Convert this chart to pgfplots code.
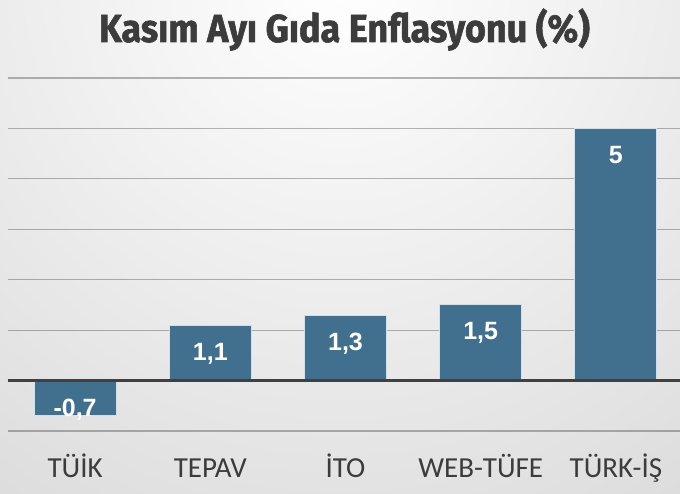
\documentclass[border=0pt]{standalone}
\usepackage{fontspec}
\usepackage{graphicx}
\usepackage{pgfplots}
\pgfplotsset{compat=1.18}
\setmainfont{Carlito}
\newfontfamily\titlefont{Fira Sans}[BoldFeatures={FakeBold=1.6}]
\newfontfamily\labfont{Liberation Sans}
\definecolor{barblue}{RGB}{65,111,142}
\definecolor{baredge}{RGB}{205,225,238}
\definecolor{txtgray}{RGB}{60,60,60}
\begin{document}
\begin{tikzpicture}
\path[use as bounding box] (0,0) rectangle (680bp,494bp);
\begin{scope}
\clip (0,0) rectangle (680bp,494bp);
\shade[inner color=white, outer color=black!27] (340bp,520bp) circle (1250bp);
\end{scope}
\node[anchor=base, text=txtgray, inner sep=0pt] at (344.5bp,452bp)
  {\resizebox{491bp}{\height}{\titlefont\bfseries\fontsize{39bp}{44bp}\selectfont Kasım Ayı Gıda Enflasyonu (\%)}};
\begin{axis}[
  at={(7.5bp,63bp)}, anchor=south west,
  scale only axis, width=672.5bp, height=353bp,
  xmin=-0.5, xmax=4.474, ymin=-1, ymax=6,
  ytick={-1,0,...,6}, yticklabels={},
  xtick={0,1,2,3,4},
  xticklabels={TÜİK,TEPAV,İTO,WEB-TÜFE,TÜRK-İŞ},
  xticklabel style={anchor=base, yshift=-46bp, text=txtgray, font=\fontsize{29bp}{32bp}\selectfont},
  axis line style={draw=none}, major tick length=0pt,
  ymajorgrids, grid style={draw=black, draw opacity=0.28, line width=1.2bp},
  ybar, bar width=82bp, bar shift=0pt,
  point meta=explicit symbolic,
  nodes near coords,
  nodes near coords style={text=white, font=\labfont\bfseries\fontsize{25bp}{28bp}\selectfont},
  clip=false,
]
\addplot[fill=barblue, draw=baredge, line width=0.9bp,
  nodes near coords style={anchor=base, yshift=-35bp}]
  table[meta=lab] {
x y lab
1 1.1 {1,1}
2 1.3 {1,3}
3 1.5 {1,5}
4 5 {5}
};
\addplot[fill=barblue, draw=baredge, line width=0.9bp,
  nodes near coords style={anchor=base, yshift=-1bp}]
  table[meta=lab] {
x y lab
0 -0.7 {-0,7}
};
\draw[black!75, line width=2.2bp] (axis cs:-0.5,0) -- (axis cs:4.474,0);
\end{axis}
\end{tikzpicture}
\end{document}
